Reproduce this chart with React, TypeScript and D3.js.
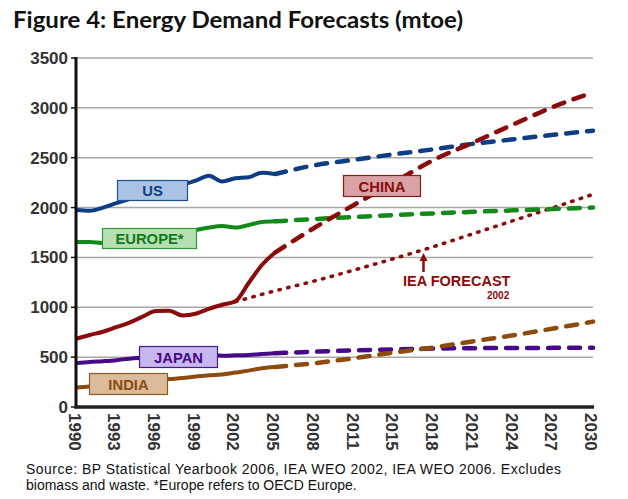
import React from 'react';
import * as d3 from 'd3';

// ---- Data ----
const tickLabels = ['1990','1993','1996','1999','2002','2005','2008','2011','2015','2018','2021','2024','2027','2030'];
const yTicks = [0, 500, 1000, 1500, 2000, 2500, 3000, 3500];
const histYears = [1990,1991,1992,1993,1994,1995,1996,1997,1998,1999,2000,2001,2002,2003,2004,2005];
const forecastTicks = ['2005','2008','2011','2015','2018','2021','2024','2027','2030'];
const ieaTicks = ['2002','2005','2008','2011','2015','2018','2021','2024','2027','2030'];

const usHist = [1975,1968,2000,2045,2085,2130,2175,2200,2230,2270,2320,2262,2294,2304,2350,2336];
const usFc = [2336,2425,2480,2535,2585,2640,2685,2730,2771];
const europeHist = [1655,1655,1645,1650,1660,1690,1730,1740,1760,1775,1800,1815,1800,1825,1855,1862];
const europeFc = [1862,1885,1905,1925,1942,1958,1972,1986,2000];
const chinaHist = [685,722,755,800,846,906,962,965,918,935,985,1025,1060,1244,1424,1550];
const chinaFc = [1550,1800,2030,2255,2480,2655,2835,3010,3155];
const japanHist = [440,452,460,470,485,495,505,510,505,515,522,515,518,522,532,539];
const japanFc = [539,555,568,578,586,590,592,593,595];
const indiaHist = [195,205,215,228,240,255,268,280,290,305,318,325,345,365,388,400];
const indiaFc = [400,440,490,547,598,660,720,787,856];
const ieaForecast2002 = [1056,1165,1265,1375,1490,1610,1740,1870,2000,2133];

const seriesNames = ['US','EUROPE*','CHINA','JAPAN','INDIA'];

// ---- Styles / layout ----
const colors: Record<string, {line: string; fill: string; border: string; text: string}> = {
  'US': {line: '#0e3d83', fill: '#a9c3e4', border: '#1f4f8f', text: '#0e3d83'},
  'EUROPE*': {line: '#13891a', fill: '#b6e0b3', border: '#2c9b36', text: '#0f7d17'},
  'CHINA': {line: '#8b0b0b', fill: '#d9a3a6', border: '#8b1a1a', text: '#8b0b0b'},
  'JAPAN': {line: '#47098a', fill: '#c6b7ee', border: '#4a1a8c', text: '#47098a'},
  'INDIA': {line: '#8e4b0e', fill: '#dcbb9b', border: '#8e5a20', text: '#8b4a10'},
};
const boxes: Record<string, {x: number; y: number; w: number; h: number}> = {
  'US': {x: 117.5, y: 180.5, w: 70, h: 20},
  'EUROPE*': {x: 102.5, y: 228.5, w: 94, h: 20},
  'CHINA': {x: 343.5, y: 175.5, w: 77, h: 21},
  'JAPAN': {x: 139.5, y: 346.5, w: 78, h: 21},
  'INDIA': {x: 89.5, y: 373.5, w: 78, h: 21},
};

const W = 628, H = 499;
const FONT = '"Liberation Sans", Arial, Helvetica, sans-serif';

export default function App() {
  const x = d3.scaleLinear().domain([0, tickLabels.length - 1]).range([76.5, 593]);
  const y = d3.scaleLinear().domain([0, 3500]).range([407, 58]);
  const tickIndex = (lbl: string) => tickLabels.indexOf(lbl);
  const histPos = (yr: number) => (yr - 1990) / 3;

  const line = d3.line<[number, number]>().x(d => x(d[0])).y(d => y(d[1])).curve(d3.curveMonotoneX);

  const hist: Record<string, number[]> = {'US': usHist, 'EUROPE*': europeHist, 'CHINA': chinaHist, 'JAPAN': japanHist, 'INDIA': indiaHist};
  const fc: Record<string, number[]> = {'US': usFc, 'EUROPE*': europeFc, 'CHINA': chinaFc, 'JAPAN': japanFc, 'INDIA': indiaFc};

  const histPath = (vals: number[]) => line(vals.map((v, i) => [histPos(histYears[i]), v]))!;
  const fcPath = (vals: number[]) => line(vals.map((v, i) => [tickIndex(forecastTicks[i]), v]))!;
  const ieaPath = line(ieaForecast2002.map((v, i) => [tickIndex(ieaTicks[i]), v]))!;

  const arrowX = 423.5;

  return (
    <svg width={W} height={H} style={{position: 'absolute', left: 0, top: 0, background: '#fff'}} fontFamily={FONT}>
      <rect x={0} y={0} width={W} height={H} fill="#fff" />
      <text x={13} y={28} fontFamily='Lato, "Open Sans", sans-serif' fontWeight={700} fontSize={22} fill="#111"
        textLength={450} lengthAdjust="spacingAndGlyphs">Figure 4: Energy Demand Forecasts (mtoe)</text>

      {/* grid */}
      {yTicks.filter(t => t > 0).map(t => (
        <line key={t} x1={76} x2={593} y1={y(t)} y2={y(t)} stroke="#a8a8a8" strokeWidth={1.5} />
      ))}

      {/* y tick labels */}
      {yTicks.map(t => (
        <g key={'yl' + t}>
          <line x1={71} x2={76} y1={y(t)} y2={y(t)} stroke="#111" strokeWidth={1.5} />
          <text x={68} y={y(t) + 6} textAnchor="end" fontWeight={700} fontSize={17} fill="#333">{t}</text>
        </g>
      ))}

      {/* x tick labels */}
      {tickLabels.map((l, i) => (
        <text key={l} transform={`translate(${x(i) - 8},${413}) rotate(90)`} fontWeight={700} fontSize={17} fill="#333">{l}</text>
      ))}

      {/* IEA forecast 2002 */}
      <path d={ieaPath} fill="none" stroke={colors['CHINA'].line} strokeWidth={3.5} strokeDasharray="1.5 7.5" strokeLinecap="round" />

      {/* series */}
      {seriesNames.map(n => (
        <g key={n}>
          <path d={fcPath(fc[n])} fill="none" stroke={colors[n].line} strokeWidth={4.5} strokeDasharray="11 10" strokeLinecap="round" />
          <path d={histPath(hist[n])} fill="none" stroke={colors[n].line} strokeWidth={4} strokeLinejoin="round" />
        </g>
      ))}

      {/* axes */}
      <line x1={76} x2={76} y1={57} y2={408.5} stroke="#111" strokeWidth={3} />
      <line x1={74.5} x2={594} y1={407} y2={407} stroke="#222" strokeWidth={3.5} />

      {/* label boxes */}
      {seriesNames.map(n => {
        const b = boxes[n];
        return (
          <g key={'b' + n}>
            <rect x={b.x} y={b.y} width={b.w} height={b.h} fill={colors[n].fill} stroke={colors[n].border} strokeWidth={1.2} />
            <text x={b.x + b.w / 2} y={b.y + b.h / 2 + 5.5} textAnchor="middle" fontWeight={700} fontSize={14.8} fill={colors[n].text}>{n}</text>
          </g>
        );
      })}

      {/* IEA annotation */}
      <line x1={arrowX} x2={arrowX} y1={272} y2={259} stroke="#8b0b0b" strokeWidth={2.5} />
      <path d={`M${arrowX - 4},${261} L${arrowX},${253} L${arrowX + 4},${261} Z`} fill="#8b0b0b" />
      <text x={403} y={286} fontWeight={700} fontSize={14.5} fill="#8b0b0b">IEA FORECAST</text>
      <text x={487} y={298.5} fontWeight={700} fontSize={10} fill="#8b0b0b">2002</text>

      {/* source */}
      <text x={26} y={474} fontSize={14} fill="#111" textLength={535} lengthAdjust="spacing">Source: BP Statistical Yearbook 2006, IEA WEO 2002, IEA WEO 2006. Excludes</text>
      <text x={26} y={490} fontSize={14} fill="#111">biomass and waste. *Europe refers to OECD Europe.</text>
    </svg>
  );
}
